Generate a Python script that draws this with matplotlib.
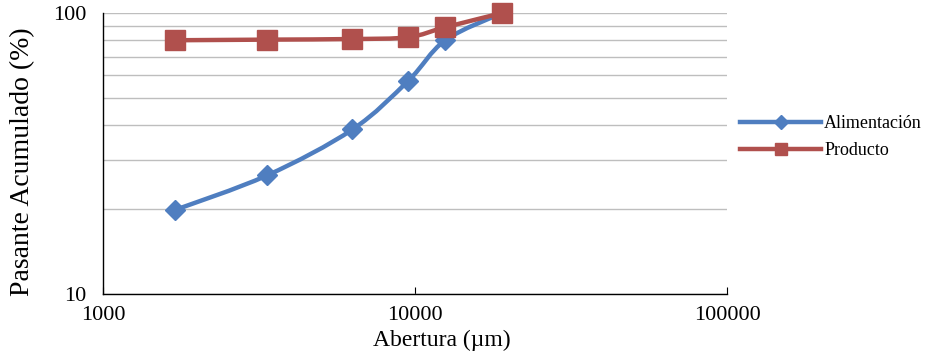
import numpy as np
import matplotlib
matplotlib.use('Agg')
import matplotlib.pyplot as plt
from matplotlib.path import Path
from matplotlib.patches import PathPatch
from matplotlib.lines import Line2D

matplotlib.rc('font', family='Liberation Serif', size=16)

abertura = [1700, 3350, 6300, 9500, 12500, 19000]
alimentacion = [19.9, 26.4, 38.5, 57.3, 80.0, 100.0]
producto = [80.0, 80.4, 80.8, 82.0, 89.0, 100.0]

azul = '#4F7EC0'
rojo = '#B0504D'


def curva(x, y):
    # spline suave tipo Excel, control de bezier en espacio log
    lx, ly = np.log10(x), np.log10(y)
    n = len(lx)
    verts = [(lx[0], ly[0])]
    codes = [Path.MOVETO]
    for i in range(n - 1):
        p0 = np.array([lx[max(i - 1, 0)], ly[max(i - 1, 0)]])
        p1 = np.array([lx[i], ly[i]])
        p2 = np.array([lx[i + 1], ly[i + 1]])
        p3 = np.array([lx[min(i + 2, n - 1)], ly[min(i + 2, n - 1)]])
        c1 = p1 + (p2 - p0) / 6
        c2 = p2 - (p3 - p1) / 6
        verts += [tuple(c1), tuple(c2), tuple(p2)]
        codes += [Path.CURVE4] * 3
    verts = [(10 ** a, 10 ** b) for a, b in verts]
    return Path(verts, codes)


fig = plt.figure(figsize=(9.28, 3.52), dpi=100)
ax = fig.add_axes([0.111, 0.165, 0.6725, 0.798])
ax.set_xscale('log')
ax.set_yscale('log')
ax.set_xlim(1000, 100000)
ax.set_ylim(10, 100)

ax.yaxis.grid(True, which='both', color='#BEBEBE', linewidth=1)
ax.set_axisbelow(True)
for s in ['top', 'right']:
    ax.spines[s].set_visible(False)
ax.spines['left'].set_linewidth(1)
ax.spines['bottom'].set_linewidth(1)

for x, y, c, m, ms in [(abertura, alimentacion, azul, 'D', 10),
                       (abertura, producto, rojo, 's', 14)]:
    ax.add_patch(PathPatch(curva(x, y), facecolor='none', edgecolor=c,
                           linewidth=3.2, capstyle='round', zorder=3))
    ax.plot(x, y, linestyle='none', marker=m, markersize=ms, color=c,
            zorder=4, clip_on=False)

ax.set_xticks([1000, 10000, 100000])
ax.set_xticklabels(['1000', '10000', '100000'])
ax.set_yticks([10, 100])
ax.set_yticklabels(['10', '100'])
ax.xaxis.set_minor_locator(matplotlib.ticker.NullLocator())
ax.yaxis.set_minor_locator(matplotlib.ticker.LogLocator(subs=np.arange(2, 10)))
ax.yaxis.set_minor_formatter(matplotlib.ticker.NullFormatter())
ax.tick_params(axis='x', which='major', direction='in', length=5, pad=9, labelsize=16)
ax.tick_params(axis='y', which='both', length=0, pad=12, labelsize=16)

ax.set_xlabel('Abertura (µm)', fontsize=17)
ax.xaxis.set_label_coords(0.543, -0.127)
ax.set_ylabel('Pasante Acumulado (%)', fontsize=20)
ax.yaxis.set_label_coords(-0.108, 0.47)

handles = [Line2D([], [], color=azul, linewidth=3.2, marker='D', markersize=7),
           Line2D([], [], color=rojo, linewidth=3.2, marker='s', markersize=9)]
fig.legend(handles, ['Alimentación', 'Producto'], loc='center left',
           bbox_to_anchor=(0.78, 0.61), frameon=False, fontsize=13,
           handlelength=4.5, handletextpad=0.15, labelspacing=0.55)

fig.savefig('out.png', dpi=100)
